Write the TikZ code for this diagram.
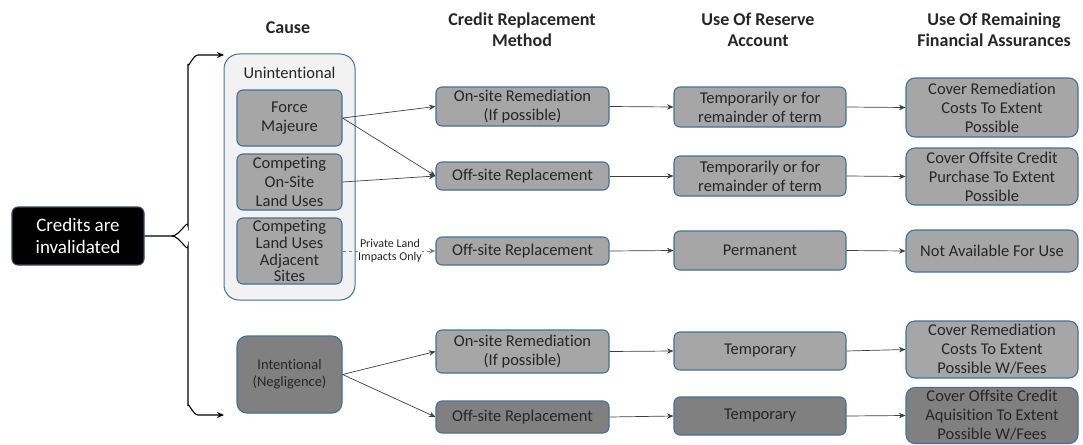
\documentclass[tikz,border=0pt]{standalone}
\usepackage{fontspec}
\setmainfont{Carlito}[Ligatures={NoCommon}]
\usetikzlibrary{arrows.meta}
\definecolor{bblue}{HTML}{41719C}
\definecolor{lgray}{HTML}{A6A6A6}
\definecolor{dgray}{HTML}{808080}
\definecolor{cfill}{HTML}{F2F2F2}
\definecolor{txt}{HTML}{262626}
\begin{document}
\begin{tikzpicture}[x=1pt,y=-1pt,
  box/.style={draw=bblue, line width=1.1pt, rounded corners=6pt, fill=lgray, inner sep=0pt, align=center, text=txt, font=\fontsize{16.5}{19}\selectfont},
  dbox/.style={box, fill=dgray},
  hdr/.style={align=center, text=txt, font=\fontsize{18}{21.5}\selectfont\bfseries},
  arr/.style={draw=black!75, line width=0.7pt, -{Stealth[length=6.5pt,width=5.5pt]}},
]
\useasboundingbox (0,0) rectangle (1083,444);
% headers
\node[hdr] (h1) at (288,28) {Cause};
\node[hdr] (h2) at (522,30) {Credit Replacement\\Method};
\node[hdr] (h3) at (758,30) {Use Of Reserve\\Account};
\node[hdr] (h4) at (994,30) {Use Of Remaining\\Financial Assurances};
% left
\node[box, fill=black, text=white, draw=bblue!70!black, minimum width=132pt, minimum height=58pt, font=\fontsize{19}{21.5}\selectfont] (cred) at (78,236) {Credits are\\invalidated};
% container
\node[draw=bblue, line width=1pt, fill=cfill, rounded corners=15pt, minimum width=131pt, minimum height=246pt, inner sep=0pt] (cont) at (289.5,177) {};
\node[text=txt, font=\fontsize{16.5}{19}\selectfont, inner sep=0pt] (ulab) at (289.5,73) {Unintentional};
\node[box, minimum width=105pt, minimum height=56pt] (fm) at (289.5,118) {Force\\Majeure};
\node[box, minimum width=105pt, minimum height=56pt] (cos) at (289.5,182) {Competing\\On-Site\\Land Uses};
\node[box, minimum width=105pt, minimum height=66pt, font=\fontsize{16.5}{16.8}\selectfont] (clu) at (289.5,251) {Competing\\Land Uses\\Adjacent\\Sites};
\node[dbox, minimum width=105pt, minimum height=77pt, rounded corners=10pt, font=\fontsize{14.5}{16.7}\selectfont] (int) at (289.5,374.5) {Intentional\\(Negligence)};
% column 2
\node[box, minimum width=173pt, minimum height=39pt] (a1) at (522.5,106.5) {On-site Remediation\\(If possible)};
\node[box, minimum width=173pt, minimum height=28pt] (a2) at (522.5,176) {Off-site Replacement};
\node[box, minimum width=173pt, minimum height=28pt] (a3) at (522.5,251) {Off-site Replacement};
\node[box, minimum width=173pt, minimum height=43pt] (a4) at (522.5,351.5) {On-site Remediation\\(If possible)};
\node[dbox, minimum width=173pt, minimum height=32pt] (a5) at (522.5,417) {Off-site Replacement};
% column 3
\node[box, minimum width=172pt, minimum height=40pt] (b1) at (760,107) {Temporarily or for\\remainder of term};
\node[box, minimum width=172pt, minimum height=40pt] (b2) at (760,176) {Temporarily or for\\remainder of term};
\node[box, minimum width=172pt, minimum height=39pt] (b3) at (760,250.5) {Permanent};
\node[box, minimum width=172pt, minimum height=38pt] (b4) at (760,351) {Temporary};
\node[dbox, minimum width=172pt, minimum height=38pt] (b5) at (760,416) {Temporary};
% column 4
\node[box, minimum width=172pt, minimum height=59pt, rounded corners=9pt] (c1) at (992,107.5) {Cover Remediation\\Costs To Extent\\Possible};
\node[box, minimum width=172pt, minimum height=57pt, rounded corners=9pt] (c2) at (992,176.5) {Cover Offsite Credit\\Purchase To Extent\\Possible};
\node[box, minimum width=172pt, minimum height=42pt, rounded corners=9pt] (c3) at (992,251) {Not Available For Use};
\node[box, minimum width=172pt, minimum height=57pt, rounded corners=9pt] (c4) at (992,349.5) {Cover Remediation\\Costs To Extent\\Possible W/Fees};
\node[dbox, minimum width=172pt, minimum height=56pt, rounded corners=9pt] (c5) at (992,415.5) {Cover Offsite Credit\\Aquisition To Extent\\Possible W/Fees};
% brace
\coordinate (bt) at (224,55);
\coordinate (bb) at (224,415);
\draw[line width=1.1pt, -{Stealth[length=7pt,width=6pt]}] (cred.east) -- (172,236) to[out=0,in=90] (188,226) -- (188,64) to[out=-90,in=180] (198,55) -- (bt);
\draw[line width=1.1pt, -{Stealth[length=7pt,width=6pt]}] (172,236) to[out=0,in=-90] (188,246) -- (188,406) to[out=90,in=180] (198,415) -- (bb);
% arrows
\draw[arr] (fm.east) -- (a1.west);
\draw[arr] (fm.east) -- (a2.west);
\draw[arr] (cos.east) -- (a2.west);
\draw[arr, dashed, draw=black!50] (clu.east) -- node[fill=white, inner sep=0.5pt, align=center, text=txt, font=\fontsize{12}{13.5}\selectfont, xshift=1pt] (pl) {Private Land\\Impacts Only} (a3.west);
\draw[arr] (int.east) -- (a4.west);
\draw[arr] (int.east) -- (a5.west);
\foreach \i in {1,...,5}{
  \draw[arr] (a\i.east) -- (b\i.west);
  \draw[arr] (b\i.east) -- (c\i.west);
}
\end{tikzpicture}
\end{document}
